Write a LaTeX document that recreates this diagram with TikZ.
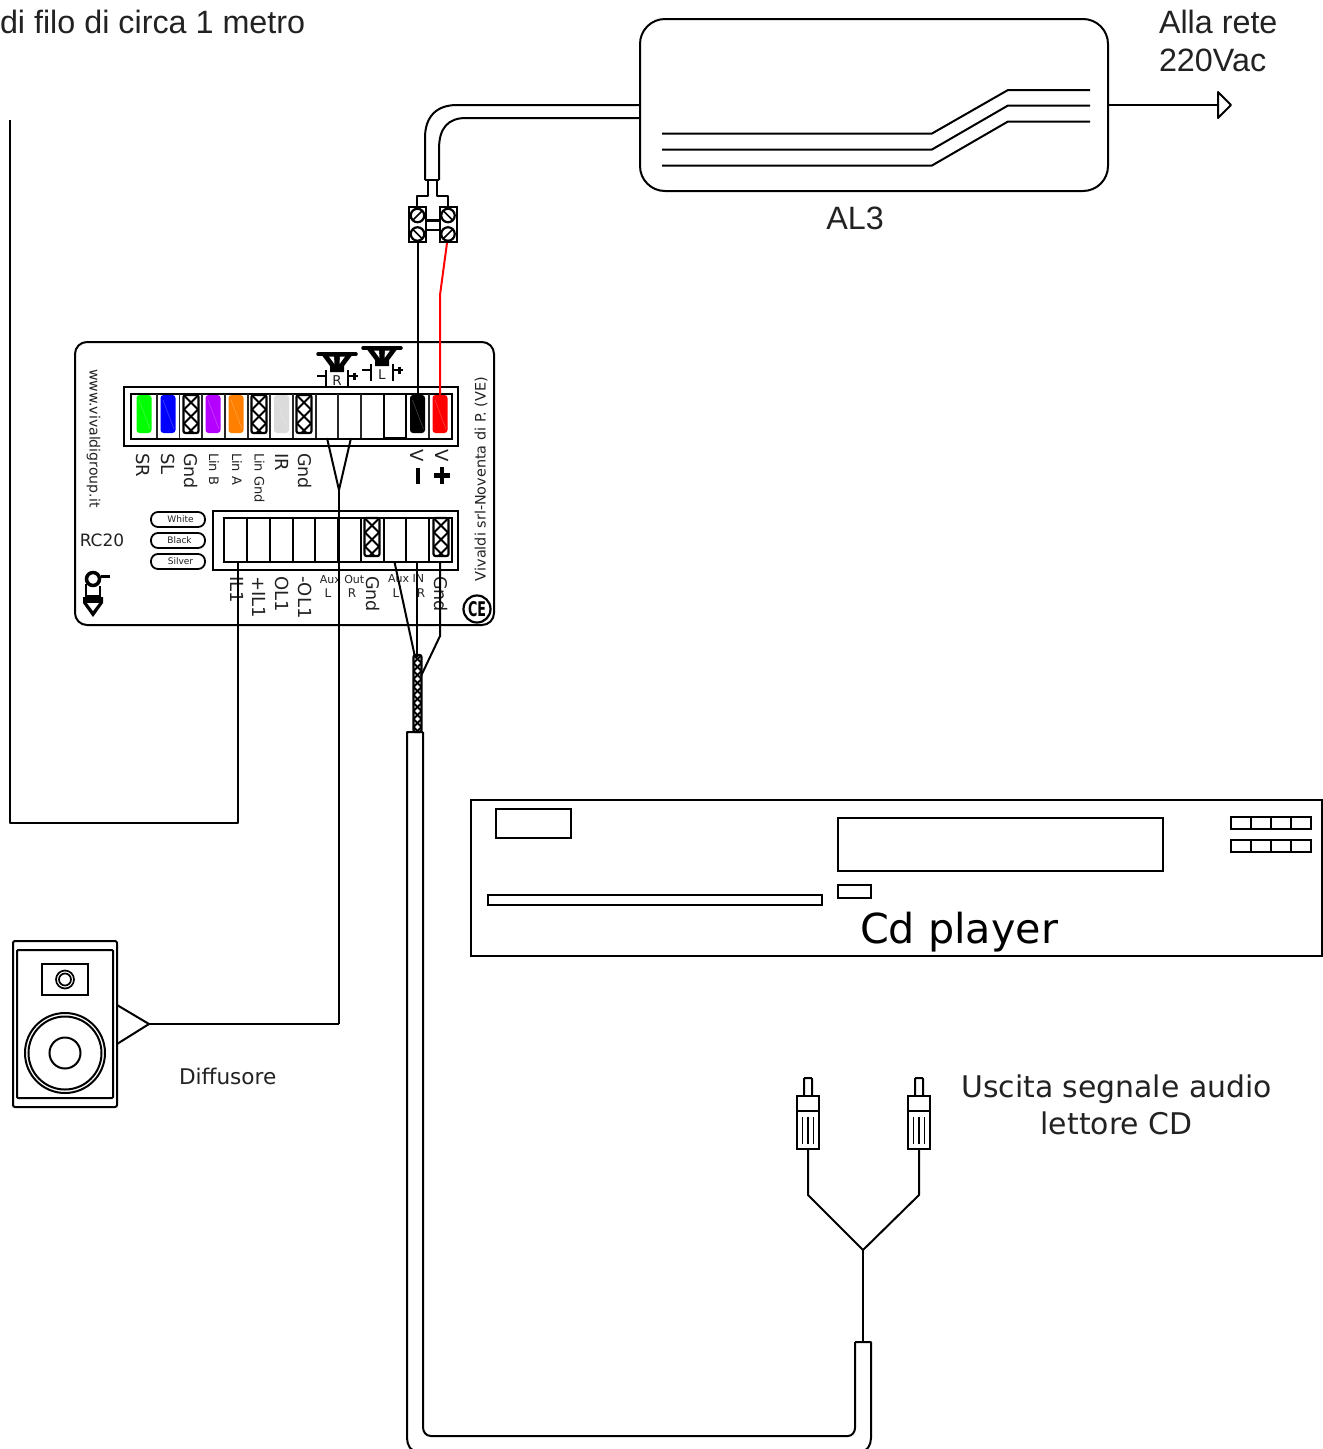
\documentclass[tikz,border=0pt]{standalone}
\usepackage{graphicx}
\usepackage{fontspec}
\setmainfont{DejaVu Sans}
\newfontfamily\arial{Liberation Sans}
\usetikzlibrary{calc}
\newcommand{\fs}[1]{\fontsize{#1}{#1}\selectfont}
\definecolor{txt}{HTML}{222222}
\definecolor{pinpurple}{HTML}{B400FF}
\tikzset{
  ln/.style={line width=2pt,line join=round},
  boxn/.style={draw,line width=2pt,inner sep=0pt,outer sep=0pt,fill=white,rectangle},
  pill/.style={draw,line width=1.8pt,rounded corners=7pt,inner sep=0pt,minimum width=54pt,minimum height=15pt,font=\fs{9},text=txt},
  lab/.style={inner sep=0pt,outer sep=0pt,text=txt},
  downlab/.style={lab,rotate=-90,anchor=west},
  uplab/.style={lab,rotate=90,anchor=west},
  big/.style={lab,font=\arial\fs{32.3},anchor=base west},
  screwn/.style={circle,draw,line width=2.2pt,inner sep=0pt,minimum size=13.5pt,outer sep=0pt},
}
% coloured pin: centre x, colour
\newcommand{\pin}[2]{%
  \fill[#2,rounded corners=3pt] (#1-7.5,395) rectangle (#1+7.5,433);
  \draw[white,opacity=.25,line width=.6pt] (#1-5,400) -- (#1+6,429);
}
% hatched cell: centre x, y1, y2, half width, step, line width
\newcommand{\hatchcell}[6]{%
  \begin{scope}
    \clip[rounded corners=2pt] (#1-#4,#2) rectangle (#1+#4,#3);
    \foreach \k in {-6,...,16}{
      \draw[line width=#6] (#1-#4,{#2+\k*#5}) -- (#1+#4,{#2+\k*#5+2*#4});
      \draw[line width=#6] (#1+#4,{#2+\k*#5}) -- (#1-#4,{#2+\k*#5+2*#4});
    }
  \end{scope}
  \draw[line width=2.2pt,rounded corners=2pt] (#1-#4,#2) rectangle (#1+#4,#3);
}
% small loudspeaker symbol: left x of bar, y of bar, label, box bottom (relative)
\newcommand{\spk}[4]{%
  \begin{scope}[shift={(#1,#2)}]
    \draw[line width=3.5pt,line cap=round] (1,0) -- (39,0);
    \fill (4,0) -- (36,0) -- (27,12) -- (27,18) -- (13,18) -- (13,12) -- cycle;
    \fill[white] (12,2.5) -- (17,2.5) -- (17.5,10) -- cycle;
    \fill[white] (28,2.5) -- (23,2.5) -- (22.5,10) -- cycle;
    \draw[ln] (9,16) -- (9,#4) (31,16) -- (31,#4);
    \draw[line width=2.2pt] (0,22) -- (9,22) (31,22) -- (35,22);
    \draw[line width=2.4pt] (34,22) -- (41,22) (37.5,18.5) -- (37.5,25.5);
    \node[lab,font=\fs{13.5}] at (20,27) {#3};
  \end{scope}
}
\begin{document}
\begin{tikzpicture}[x=1pt,y=-1pt]
\path[clip] (0,0) rectangle (1323,1449);
\fill[white] (0,0) rectangle (1323,1449);

% ---------- top-left note
\node[big] (note) at (0,33) {di filo di circa 1 metro};

% ---------- AL3 supply
\node[boxn,rounded corners=25pt,minimum width=468pt,minimum height=172pt] (al3) at (874,105) {};
\draw[ln] (662,133.5) -- (932,133.5) -- (1008,90) -- (1090,90);
\draw[ln] (662,149.5) -- (932,149.5) -- (1008,105.5) -- (1090,105.5);
\draw[ln] (662,165.5) -- (932,165.5) -- (1008,121.5) -- (1090,121.5);
\node[lab,font=\arial\fs{32.3}] (al3lab) at (855,218.5) {AL3};
\node[big] (rete1) at (1159,33) {Alla rete};
\node[big] (rete2) at (1159,71) {220Vac};
\coordinate (plug) at (1218,105);
\draw[ln] (al3.east |- plug) -- (plug);
\draw[ln,fill=white] (1218,92) -- (1231,105) -- (1218,118) -- cycle;

% mains cable
\coordinate (cabA) at (425,180);
\coordinate (cabB) at (439,180);
\draw[ln] (cabA) -- (425,138) .. controls (425,116) and (437,105) .. (457,105) -- (640,105);
\draw[ln] (cabB) -- (439,149) .. controls (439,128) and (448,118) .. (466,118) -- (640,118);
\draw[ln] (cabA) -- (cabB);
\draw[ln] (428,180) -- (428,196) -- (417,196) -- (417,207);
\draw[ln] (437,180) -- (437,196) -- (448,196) -- (448,207);

% screw terminal
\node[boxn,minimum width=17pt,minimum height=35pt] (tl) at (417.5,224.5) {};
\node[boxn,minimum width=17pt,minimum height=35pt] (tr) at (448.5,224.5) {};
\draw[line width=2.5pt] (tl.east |- 0,220.5) -- (tr.west |- 0,220.5);
\draw[line width=2pt] (tl.east |- 0,229.5) -- (tr.west |- 0,229.5);
\node[screwn] (sa) at (417.5,215.5) {};
\node[screwn] (sb) at (417.5,234) {};
\node[screwn] (sc) at (448,215.5) {};
\node[screwn] (sd) at (448,234) {};
\draw[line width=1.6pt] (sa.north east) -- (sa.south west);
\draw[line width=1.6pt] (sb.north west) -- (sb.south east);
\draw[line width=1.6pt] (sc.north west) -- (sc.south east);
\draw[line width=1.6pt] (sd.north east) -- (sd.south west);

% ---------- RC20 panel
\node[boxn,rounded corners=12pt,minimum width=419pt,minimum height=283pt] (panel) at (284.5,483.5) {};
\spk{317}{354}{R}{33}
\spk{362}{348}{L}{33}
\node[boxn,minimum width=334pt,minimum height=59pt] (upper) at (291,416.5) {};
\node[boxn,minimum width=245pt,minimum height=59pt] (lower) at (335.5,540.5) {};
\node[draw,line width=2pt,inner sep=0,minimum width=321pt,minimum height=45pt] (upin) at (291.5,416.5) {};
\node[draw,line width=2pt,inner sep=0,minimum width=228pt,minimum height=44pt] (loin) at (338,540) {};
\foreach \x in {156.7,179.4,202,224.7,247.7,270.3,293,315.7,338.3,361,383.7,406.3,429}
  \draw[line width=1.7pt,black!85] (\x,394) -- (\x,438);
\foreach \x in {247,270,292.7,315.3,338.3,361,383.7,406.3,429}
  \draw[line width=2pt] (\x,518) -- (\x,562);
\draw[line width=2pt] (383.7,394) rectangle (406.3,438);

\pin{144}{green}
\pin{168}{blue}
\pin{213}{pinpurple}
\pin{236}{orange}
\pin{281.5}{black!14}
\pin{417.5}{black}
\pin{440}{red}
\hatchcell{191}{395}{433}{7.5}{14}{2pt}
\hatchcell{259}{395}{433}{7.5}{14}{2pt}
\hatchcell{304}{395}{433}{7.5}{14}{2pt}
\hatchcell{372}{518}{556}{7.5}{14}{2pt}
\hatchcell{441}{518}{556}{7.5}{14}{2pt}

% upper labels
\node[downlab,font=\fs{18}] (l1) at (143.5,453) {SR};
\node[downlab,font=\fs{18}] (l2) at (168.5,453) {SL};
\node[downlab,font=\fs{17.5}] (l3) at (191,453) {Gnd};
\node[downlab,font=\fs{13}] (l4) at (214,453) {Lin B};
\node[downlab,font=\fs{13}] (l5) at (237,453) {Lin A};
\node[downlab,font=\fs{13}] (l6) at (259.5,453) {Lin Gnd};
\node[downlab,font=\fs{18}] (l7) at (282,453) {IR};
\node[downlab,font=\fs{17.5}] (l8) at (305,453) {Gnd};
\node[downlab,font=\fs{18}] (l9) at (417.5,449) {V};
\node[downlab,font=\fs{18}] (l10) at (442.5,449) {V};
\fill (415.5,468) rectangle (420,484);
\fill (439.5,467) rectangle (444,484);
\fill (434,473) rectangle (449.5,478);

% lower labels
\node[downlab,font=\fs{18}] (m1) at (237,576) {IL1};
\node[downlab,font=\fs{18}] (m2) at (259.5,576) {+IL1};
\node[downlab,font=\fs{18}] (m3) at (282,576) {OL1};
\node[downlab,font=\fs{18}] (m4) at (305,576) {-OL1};
\node[downlab,font=\fs{17.5}] (m5) at (373,576) {Gnd};
\node[downlab,font=\fs{17.5}] (m6) at (441,576) {Gnd};
\node[lab,font=\fs{11}] (m7) at (342,579) {Aux Out};
\node[lab,font=\fs{12}] (m8) at (328,593.5) {L};
\node[lab,font=\fs{12}] (m9) at (352,593.5) {R};
\node[lab,font=\fs{11}] (m10) at (406,579) {Aux IN};
\node[lab,font=\fs{12}] (m11) at (396,593.5) {L};
\node[lab,font=\fs{12}] (m12) at (421,593.5) {R};

\node[pill] (white) at (178,519.5) {\hspace{5pt}White};
\node[pill] (black) at (178,540.5) {\hspace{3pt}Black};
\node[pill] (silver) at (178,561.5) {\hspace{5pt}Silver};
\node[lab,font=\fs{17}] (rc) at (102,540.5) {RC20};
\node[downlab,font=\fs{14.1}] (www) at (93.5,369) {www.vivaldigroup.it};
\node[uplab,font=\fs{14.4}] (viv) at (481,581) {Vivaldi srl-Noventa di P. (VE)};

% CE mark
\node[circle,draw,line width=2.2pt,minimum size=27pt,inner sep=0pt] (ce) at (477,609) {\resizebox{18pt}{15pt}{\bfseries CE}};

% logo
\node[circle,draw,line width=3.5pt,minimum size=13pt,inner sep=0pt] (logo) at (93,579) {};
\draw[line width=2.5pt] (101,576.5) -- (110,576.5);
\draw[line width=2.5pt] (86,584) -- (86,596) -- (100,596) -- (100,586);
\fill (83,597) -- (103,597) -- (103,603) -- (93,617) -- (83,603) -- cycle;
\fill[white] (87,603) -- (99,603) -- (93,611) -- cycle;

% ---------- wires
\coordinate (jY) at (339,490);
\coordinate (uL) at (327,438);
\coordinate (uR) at (351,438);
\coordinate (jSpk) at (339,1024);
\draw[ln] (uL) -- (jY) -- (uR);
\draw[line width=2.5pt] (339,518) -- (339,562);
\draw[ln] (jY) -- (jSpk);
\draw[ln] (238,562) -- (238,822.5) -- (9.5,822.5) -- (9.5,120);
\draw[ln] (tl.south) -- (417.5,395);
\draw[ln,red] (447,243) -- (440,295) -- (440,395);
% audio
\draw[ln] (394.5,562) -- (415,657);
\draw[ln] (417,562) -- (417,657);
\draw[ln] (440,562) -- (440,636) -- (421,676);
\hatchcell{417.5}{655}{732}{4}{8}{1.8pt}

% shielded cable
\draw[ln] (423,732) -- (407,732) -- (407,1438) .. controls (407,1445) and (411,1452) .. (418,1452) -- (860,1452) .. controls (867,1452) and (871,1445) .. (871,1438) -- (871,1342) -- (855,1342);
\draw[ln] (423,732) -- (423,1427) .. controls (423,1432) and (426,1436) .. (431,1436) -- (848,1436) .. controls (852,1436) and (855,1432) .. (855,1428) -- (855,1342);

% ---------- CD player
\node[boxn,minimum width=851pt,minimum height=156pt] (cd) at (896.5,878) {};
\node[boxn,minimum width=75pt,minimum height=29pt] (cd1) at (533.5,823.5) {};
\node[boxn,minimum width=325pt,minimum height=53pt] (cd2) at (1000.5,844.5) {};
\node[boxn,minimum width=33pt,minimum height=13pt] (cd3) at (854.5,891.5) {};
\node[boxn,minimum width=334pt,minimum height=10pt] (cd4) at (655,900) {};
\node[boxn,minimum width=80pt,minimum height=12pt] (cd5) at (1271,823) {};
\node[boxn,minimum width=80pt,minimum height=12pt] (cd6) at (1271,846) {};
\foreach \x in {1250.5,1270.5,1290.5}
  \draw[ln] (\x,817) -- (\x,829) (\x,840) -- (\x,852);
\node[lab,font=\fs{41.3},anchor=base west,text=black] (cdlab) at (860,943) {Cd player};

% ---------- loudspeaker
\node[boxn,rounded corners=2pt,minimum width=104pt,minimum height=166pt] (box) at (65,1024) {};
\node[draw,line width=2pt,rounded corners=1pt,inner sep=0,minimum width=96pt,minimum height=148pt] (boxin) at (65,1024) {};
\node[draw,line width=2pt,inner sep=0,minimum width=46pt,minimum height=31pt] (tw) at (65,979.5) {};
\node[circle,draw,line width=1.7pt,inner sep=0,minimum size=18pt] (tw1) at (65,979.5) {};
\node[circle,draw,line width=1.7pt,inner sep=0,minimum size=12pt] (tw2) at (65,979.5) {};
\node[circle,draw,line width=2pt,inner sep=0,minimum size=80pt] (wf1) at (65,1053) {};
\node[circle,draw,line width=2pt,inner sep=0,minimum size=73pt] (wf2) at (65,1053) {};
\node[circle,draw,line width=2pt,inner sep=0,minimum size=31pt] (wf3) at (65,1053) {};
\coordinate (sTip) at (149,1024);
\draw[ln] (117,1005) -- (sTip) -- (117,1044);
\draw[ln] (sTip) -- (jSpk);
\node[lab,font=\fs{21.6},anchor=base west] (diff) at (179,1084) {Diffusore};

% ---------- RCA plugs
\foreach \n/\x in {a/808,b/919}{
  \node[boxn,minimum width=22pt,minimum height=53pt] (rca\n) at (\x,1122.5) {};
  \draw[ln] (\x-11,1110.5) -- (\x+11,1110.5);
  \draw[line width=1.5pt] (\x-5.5,1117) -- (\x-5.5,1144) (\x,1117) -- (\x,1144) (\x+5.5,1117) -- (\x+5.5,1144);
  \draw[ln,rounded corners=1pt] (\x-4,1096) -- (\x-4,1078) -- (\x+4,1078) -- (\x+4,1096);
}
\coordinate (jRca) at (863,1250);
\draw[ln] (rcaa.south) -- (808,1195) -- (jRca) -- (919,1195) -- (rcab.south);
\draw[ln] (jRca) -- (863,1342);

\node[lab,font=\fs{29.85},align=center] (usc) at (1116.5,1105) {Uscita segnale audio\\[7pt]lettore CD};
\end{tikzpicture}
\end{document}
